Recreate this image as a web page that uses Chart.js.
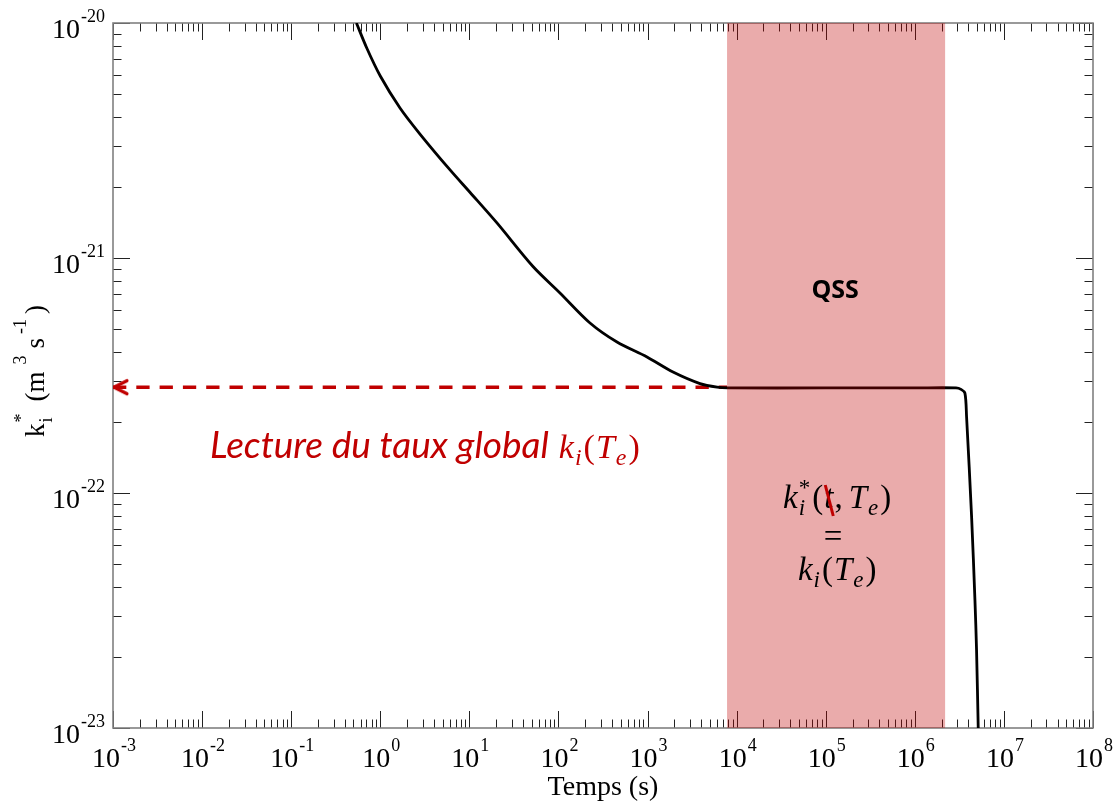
<!DOCTYPE html>
<html>
<head>
  <title>Taux d'ionisation - QSS</title>
  <script src="https://cdn.jsdelivr.net/npm/chart.js"></script>
  <style>
    body {
      margin: 0;
      background-color: #fff;
    }
    #wrap {
      width: 1114px;
      height: 805px;
    }
  </style>
</head>
<body>
<div id="wrap"><canvas id="rateChart" width="1114" height="805"></canvas></div>

<script>
  // k_i*(t) (time in s, rate in m^3 s^-1)
  const timeValues = [0.54, 0.705, 1.0, 1.665, 2.79, 6.07, 10.2, 20.4, 51.8, 104, 226, 454, 986, 1932, 3881, 6026,
                      8000, 1e5, 1e6, 2.9e6, 3.3e6, 3.65e6, 3.81e6, 4.34e6, 4.73e6, 4.93e6, 5.15e6];
  const rateValues = [1e-20, 7.83e-21, 5.95e-21, 4.35e-21, 3.37e-21, 2.37e-21, 1.9e-21, 1.41e-21, 9.2e-22, 7.1e-22,
                      5.29e-22, 4.39e-22, 3.79e-22, 3.27e-22, 2.92e-22, 2.82e-22,
                      2.8e-22, 2.8e-22, 2.8e-22, 2.8e-22, 2.76e-22, 2.66e-22, 2.11e-22, 7.9e-23, 3.5e-23, 2.15e-23, 1e-23];

  // reading of the global rate (dashed arrow) and QSS window
  const globalRate = 2.82e-22;
  const readingTimes = [1e-3, 7.8e3];
  const qssWindow = [7.8e3, 2.2e6];

  // axis decades
  const xExponents = [-3, -2, -1, 0, 1, 2, 3, 4, 5, 6, 7, 8];
  const yExponents = [-23, -22, -21, -20];

  const serif = '"Liberation Serif", "Times New Roman", serif';
  const red = '#C00000';

  // open arrow head used as point style for the reading line
  const arrowHead = document.createElement('canvas');
  arrowHead.width = 34;
  arrowHead.height = 20;
  (function () {
    const c = arrowHead.getContext('2d');
    c.strokeStyle = red;
    c.lineWidth = 3.2;
    c.lineCap = 'round';
    c.lineJoin = 'round';
    c.beginPath();
    c.moveTo(31, 3.5);
    c.lineTo(18, 10);
    c.lineTo(31, 16.5);
    c.stroke();
  })();

  // draws a run of text pieces (sub/superscripts with stack:true share the x of the previous one)
  function drawRun(ctx, runs, x, y, align) {
    const widths = runs.map(r => { ctx.font = r.font; return ctx.measureText(r.text).width; });
    const pos = [];
    let cur = 0, lastAdv = 0;
    runs.forEach((r, i) => {
      if (r.stack) {
        pos.push(cur - lastAdv);
        lastAdv = Math.max(lastAdv, widths[i]);
        cur = pos[i] + lastAdv;
      } else {
        cur += (r.gap || 0);
        pos.push(cur);
        lastAdv = widths[i];
        cur += widths[i];
      }
    });
    const x0 = align === 'center' ? x - cur / 2 : align === 'right' ? x - cur : x;
    runs.forEach((r, i) => {
      ctx.font = r.font;
      ctx.fillStyle = r.color || '#000';
      ctx.fillText(r.text, x0 + pos[i], y + (r.dy || 0));
    });
    return { x0, pos, widths, total: cur };
  }

  function powerLabel(exp) {
    return [
      { text: '10', font: '28px ' + serif },
      { text: String(exp), font: '18px ' + serif, dy: -16, gap: 1 }
    ];
  }

  // frame and inward ticks on all four sides
  const axisFrame = {
    id: 'axisFrame',
    beforeDatasetsDraw(chart) {
      const { ctx, chartArea: a, scales: { x, y } } = chart;
      ctx.save();
      ctx.strokeStyle = '#222';
      ctx.lineWidth = 1;
      const vTick = (px, len) => {
        px = Math.round(px) + 0.5;
        ctx.beginPath();
        ctx.moveTo(px, a.bottom); ctx.lineTo(px, a.bottom - len);
        ctx.moveTo(px, a.top); ctx.lineTo(px, a.top + len);
        ctx.stroke();
      };
      const hTick = (py, len) => {
        py = Math.round(py) + 0.5;
        ctx.beginPath();
        ctx.moveTo(a.left, py); ctx.lineTo(a.left + len, py);
        ctx.moveTo(a.right, py); ctx.lineTo(a.right - len, py);
        ctx.stroke();
      };
      xExponents.forEach((e, i) => {
        vTick(x.getPixelForValue(10 ** e), 17);
        if (i < xExponents.length - 1) {
          for (let m = 2; m <= 9; m++) vTick(x.getPixelForValue(m * 10 ** e), 8.5);
        }
      });
      yExponents.forEach((e, i) => {
        hTick(y.getPixelForValue(10 ** e), 17);
        if (i < yExponents.length - 1) {
          for (let m = 2; m <= 9; m++) hTick(y.getPixelForValue(m * 10 ** e), 8.5);
        }
      });
      ctx.strokeStyle = '#808080';
      ctx.lineWidth = 1.6;
      ctx.strokeRect(a.left, a.top, a.right - a.left, a.bottom - a.top);
      ctx.restore();
    }
  };

  // tick labels, axis titles and annotations
  const chartTexts = {
    id: 'chartTexts',
    afterDatasetsDraw(chart) {
      const { ctx, chartArea: a, scales: { x, y } } = chart;
      ctx.save();
      ctx.textBaseline = 'alphabetic';

      xExponents.forEach(e => {
        drawRun(ctx, powerLabel(e), x.getPixelForValue(10 ** e) + 1, a.bottom + 39, 'center');
      });
      yExponents.forEach(e => {
        drawRun(ctx, powerLabel(e), a.left - 8, y.getPixelForValue(10 ** e) + 14.5, 'right');
      });

      // x title
      ctx.font = '28px ' + serif;
      ctx.fillStyle = '#000';
      ctx.textAlign = 'left';
      const tw = ctx.measureText('Temps (s)').width;
      ctx.fillText('Temps (s)', (a.left + a.right) / 2 - tw / 2, 795);

      // y title, rotated
      ctx.save();
      ctx.translate(44, 437);
      ctx.rotate(-Math.PI / 2);
      const main = '27px ' + serif, small = '18px ' + serif;
      drawRun(ctx, [
        { text: 'k', font: main },
        { text: 'i', font: small, dy: 8, gap: 1 },
        { text: '*', font: small, dy: -17, stack: true },
        { text: '(m', font: main, gap: 12 },
        { text: '3', font: small, dy: -18, gap: 7 },
        { text: 's', font: main, gap: 7 },
        { text: '-1', font: small, dy: -18, gap: 4 },
        { text: ')', font: main, gap: 5 }
      ], 0, 0, 'left');
      ctx.restore();

      // QSS band annotations
      const qx = (x.getPixelForValue(qssWindow[0]) + x.getPixelForValue(qssWindow[1])) / 2;
      ctx.font = 'bold 25px "Open Sans", sans-serif';
      ctx.fillStyle = '#000';
      ctx.textAlign = 'center';
      ctx.fillText('QSS', qx - 1, 298);
      ctx.textAlign = 'left';

      const mI = 'italic 33px ' + serif, mN = '33px ' + serif, sI = 'italic 23px ' + serif;
      const f1 = drawRun(ctx, [
        { text: 'k', font: mI },
        { text: 'i', font: sI, dy: 7, gap: 1 },
        { text: '*', font: '23px ' + serif, dy: -13, stack: true },
        { text: '(', font: mN, gap: 2 },
        { text: 't', font: mI, gap: 1 },
        { text: ',', font: mN, gap: 1 },
        { text: 'T', font: mI, gap: 6 },
        { text: 'e', font: sI, dy: 7, gap: 1 },
        { text: ')', font: mN, gap: 2 }
      ], qx + 1, 508, 'center');
      // red slash through t
      const tx = f1.x0 + f1.pos[4];
      ctx.strokeStyle = red;
      ctx.lineWidth = 3;
      ctx.beginPath();
      ctx.moveTo(tx + 1, 485);
      ctx.lineTo(tx + 9, 516);
      ctx.stroke();

      drawRun(ctx, [{ text: '=', font: mN }], qx - 3, 547, 'center');
      drawRun(ctx, [
        { text: 'k', font: mI },
        { text: 'i', font: sI, dy: 7, gap: 1 },
        { text: '(', font: mN, gap: 2 },
        { text: 'T', font: mI, gap: 1 },
        { text: 'e', font: sI, dy: 7, gap: 1 },
        { text: ')', font: mN, gap: 2 }
      ], qx + 1, 580, 'center');

      // reading of the global rate
      drawRun(ctx, [
        { text: 'Lecture du taux global', font: 'italic 37px Lato, sans-serif', color: red },
        { text: 'k', font: 'italic 34px ' + serif, color: red, gap: 10 },
        { text: 'i', font: 'italic 24px ' + serif, color: red, dy: 7, gap: 1 },
        { text: '(', font: '34px ' + serif, color: red, gap: 2 },
        { text: 'T', font: 'italic 34px ' + serif, color: red, gap: 1 },
        { text: 'e', font: 'italic 24px ' + serif, color: red, dy: 7, gap: 1 },
        { text: ')', font: '34px ' + serif, color: red, gap: 2 }
      ], 210, 458, 'left');

      ctx.restore();
    }
  };

  const qssBand = {
    label: 'QSS',
    data: qssWindow.map(t => ({ x: t, y: 1e-20 })),
    borderWidth: 0,
    pointRadius: 0,
    backgroundColor: 'rgba(190, 0, 0, 0.33)',
    fill: 'start',
    order: 0
  };

  const rateCurve = {
    label: 'k_i*',
    data: timeValues.map((t, i) => ({ x: t, y: rateValues[i] })),
    borderColor: '#000',
    borderWidth: 2.8,
    pointRadius: 0,
    tension: 0.3,
    fill: false,
    order: 1
  };

  const readingLine = {
    label: 'lecture',
    data: readingTimes.map(t => ({ x: t, y: globalRate })),
    borderColor: red,
    borderWidth: 3.5,
    borderDash: [13.3, 10],
    pointRadius: [8, 0],
    pointStyle: [arrowHead, 'circle'],
    fill: false,
    order: 2
  };

  new Chart(document.getElementById('rateChart').getContext('2d'), {
    type: 'line',
    data: { datasets: [qssBand, rateCurve, readingLine] },
    options: {
      responsive: false,
      animation: false,
      devicePixelRatio: 1,
      layout: { padding: { left: 113, top: 23, right: 21, bottom: 77 } },
      scales: {
        x: { type: 'logarithmic', min: 1e-3, max: 1e8, display: false },
        y: { type: 'logarithmic', min: 1e-23, max: 1e-20, display: false }
      },
      plugins: {
        legend: { display: false },
        tooltip: { enabled: false }
      }
    },
    plugins: [axisFrame, chartTexts]
  });
</script>
</body>
</html>
